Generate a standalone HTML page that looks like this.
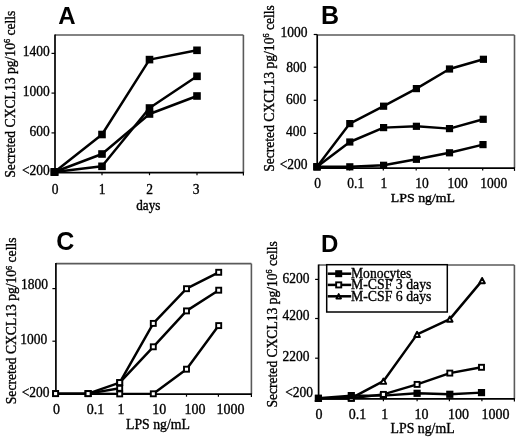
<!DOCTYPE html>
<html><head><meta charset="utf-8"><style>
html,body{margin:0;padding:0;background:#fff;}
svg{display:block;filter:blur(0.35px);}
text{fill:#000;}
</style></head><body>
<svg width="520" height="440" viewBox="0 0 520 440">
<rect width="520" height="440" fill="#fff"/>
<text x="58.3" y="23.6" font-family="Liberation Sans" font-weight="bold" font-size="24">A</text>
<text transform="translate(14.6,177.7) rotate(-90)" font-family="Liberation Serif" font-size="15" stroke="#000" stroke-width="0.36" textLength="167.1" lengthAdjust="spacingAndGlyphs">Secreted CXCL13 pg/10<tspan dy="-4.6" font-size="9">6</tspan><tspan dy="4.6"> cells</tspan></text>
<line x1="55" y1="35" x2="243.4" y2="35" stroke="#5a5a5a" stroke-width="1.6" />
<line x1="243.4" y1="35" x2="243.4" y2="172.7" stroke="#5a5a5a" stroke-width="1.6" />
<line x1="55" y1="34.5" x2="55" y2="173.7" stroke="#000" stroke-width="1.7" />
<line x1="54.2" y1="172.7" x2="243.9" y2="172.7" stroke="#000" stroke-width="1.8" />
<line x1="243.4" y1="172.7" x2="243.4" y2="175.5" stroke="#000" stroke-width="1.2" />
<line x1="51.5" y1="53.4" x2="55" y2="53.4" stroke="#000" stroke-width="1.2" />
<line x1="51.5" y1="93.1" x2="55" y2="93.1" stroke="#000" stroke-width="1.2" />
<line x1="51.5" y1="132.9" x2="55" y2="132.9" stroke="#000" stroke-width="1.2" />
<line x1="102" y1="172.7" x2="102" y2="175.2" stroke="#000" stroke-width="1.2" />
<line x1="149.5" y1="172.7" x2="149.5" y2="175.2" stroke="#000" stroke-width="1.2" />
<line x1="197" y1="172.7" x2="197" y2="175.2" stroke="#000" stroke-width="1.2" />
<text x="49.8" y="56.1" font-family="Liberation Serif" font-size="14.6" text-anchor="end" stroke="#000" stroke-width="0.36" textLength="27.00" lengthAdjust="spacingAndGlyphs">1400</text>
<text x="49.8" y="95.5" font-family="Liberation Serif" font-size="14.6" text-anchor="end" stroke="#000" stroke-width="0.36" textLength="27.00" lengthAdjust="spacingAndGlyphs">1000</text>
<text x="49.8" y="136.0" font-family="Liberation Serif" font-size="14.6" text-anchor="end" stroke="#000" stroke-width="0.36" textLength="20.25" lengthAdjust="spacingAndGlyphs">600</text>
<text x="49.8" y="174.7" font-family="Liberation Serif" font-size="14.6" text-anchor="end" stroke="#000" stroke-width="0.36" textLength="27.86" lengthAdjust="spacingAndGlyphs">&lt;200</text>
<text x="55" y="194.2" font-family="Liberation Serif" font-size="14.6" text-anchor="middle" stroke="#000" stroke-width="0.36" textLength="6.75" lengthAdjust="spacingAndGlyphs">0</text>
<text x="102" y="194.2" font-family="Liberation Serif" font-size="14.6" text-anchor="middle" stroke="#000" stroke-width="0.36" textLength="6.75" lengthAdjust="spacingAndGlyphs">1</text>
<text x="149.5" y="194.2" font-family="Liberation Serif" font-size="14.6" text-anchor="middle" stroke="#000" stroke-width="0.36" textLength="6.75" lengthAdjust="spacingAndGlyphs">2</text>
<text x="196" y="194.2" font-family="Liberation Serif" font-size="14.6" text-anchor="middle" stroke="#000" stroke-width="0.36" textLength="6.75" lengthAdjust="spacingAndGlyphs">3</text>
<text x="148.3" y="209.7" font-family="Liberation Serif" font-size="13.8" text-anchor="middle" stroke="#000" stroke-width="0.36" textLength="24.2" lengthAdjust="spacingAndGlyphs">days</text>
<polyline points="54.5,172 102,134.5 149.5,59.6 197,50.3" fill="none" stroke="#000" stroke-width="2.45" stroke-linejoin="round"/>
<polyline points="54.5,172 102,154 149.5,114 197,96" fill="none" stroke="#000" stroke-width="2.45" stroke-linejoin="round"/>
<polyline points="54.5,172 102,166.3 149.5,108 197,76.3" fill="none" stroke="#000" stroke-width="2.45" stroke-linejoin="round"/>
<rect x="50.7" y="168.2" width="7.6" height="7.6" fill="#000"/>
<rect x="98.2" y="130.7" width="7.6" height="7.6" fill="#000"/>
<rect x="145.7" y="55.800000000000004" width="7.6" height="7.6" fill="#000"/>
<rect x="193.2" y="46.5" width="7.6" height="7.6" fill="#000"/>
<rect x="50.7" y="168.2" width="7.6" height="7.6" fill="#000"/>
<rect x="98.2" y="150.2" width="7.6" height="7.6" fill="#000"/>
<rect x="145.7" y="110.2" width="7.6" height="7.6" fill="#000"/>
<rect x="193.2" y="92.2" width="7.6" height="7.6" fill="#000"/>
<rect x="50.7" y="168.2" width="7.6" height="7.6" fill="#000"/>
<rect x="98.2" y="162.5" width="7.6" height="7.6" fill="#000"/>
<rect x="145.7" y="104.2" width="7.6" height="7.6" fill="#000"/>
<rect x="193.2" y="72.5" width="7.6" height="7.6" fill="#000"/>
<text x="320.9" y="24" font-family="Liberation Sans" font-weight="bold" font-size="25">B</text>
<text transform="translate(273.5,171.8) rotate(-90)" font-family="Liberation Serif" font-size="15" stroke="#000" stroke-width="0.36" textLength="166.60000000000002" lengthAdjust="spacingAndGlyphs">Secreted CXCL13 pg/10<tspan dy="-4.6" font-size="9">6</tspan><tspan dy="4.6"> cells</tspan></text>
<line x1="317.2" y1="35" x2="514.5" y2="35" stroke="#5a5a5a" stroke-width="1.6" />
<line x1="514.5" y1="35" x2="514.5" y2="168.1" stroke="#5a5a5a" stroke-width="1.6" />
<line x1="317.2" y1="34.5" x2="317.2" y2="169.1" stroke="#000" stroke-width="1.7" />
<line x1="316.4" y1="168.1" x2="515.0" y2="168.1" stroke="#000" stroke-width="1.8" />
<line x1="514.5" y1="168.1" x2="514.5" y2="170.9" stroke="#000" stroke-width="1.2" />
<line x1="313.7" y1="34.5" x2="317.2" y2="34.5" stroke="#000" stroke-width="1.2" />
<line x1="313.7" y1="67.2" x2="317.2" y2="67.2" stroke="#000" stroke-width="1.2" />
<line x1="313.7" y1="100.3" x2="317.2" y2="100.3" stroke="#000" stroke-width="1.2" />
<line x1="313.7" y1="133.4" x2="317.2" y2="133.4" stroke="#000" stroke-width="1.2" />
<line x1="349.6" y1="168.1" x2="349.6" y2="170.6" stroke="#000" stroke-width="1.2" />
<line x1="383.3" y1="168.1" x2="383.3" y2="170.6" stroke="#000" stroke-width="1.2" />
<line x1="416.2" y1="168.1" x2="416.2" y2="170.6" stroke="#000" stroke-width="1.2" />
<line x1="449" y1="168.1" x2="449" y2="170.6" stroke="#000" stroke-width="1.2" />
<line x1="482.7" y1="168.1" x2="482.7" y2="170.6" stroke="#000" stroke-width="1.2" />
<text x="307.6" y="37.0" font-family="Liberation Serif" font-size="14.6" text-anchor="end" stroke="#000" stroke-width="0.36" textLength="27.00" lengthAdjust="spacingAndGlyphs">1000</text>
<text x="306.6" y="71.6" font-family="Liberation Serif" font-size="14.6" text-anchor="end" stroke="#000" stroke-width="0.36" textLength="20.25" lengthAdjust="spacingAndGlyphs">800</text>
<text x="306.3" y="103.69999999999999" font-family="Liberation Serif" font-size="14.6" text-anchor="end" stroke="#000" stroke-width="0.36" textLength="20.25" lengthAdjust="spacingAndGlyphs">600</text>
<text x="306.3" y="135.9" font-family="Liberation Serif" font-size="14.6" text-anchor="end" stroke="#000" stroke-width="0.36" textLength="20.25" lengthAdjust="spacingAndGlyphs">400</text>
<text x="307.6" y="169.29999999999998" font-family="Liberation Serif" font-size="14.6" text-anchor="end" stroke="#000" stroke-width="0.36" textLength="27.86" lengthAdjust="spacingAndGlyphs">&lt;200</text>
<text x="314.3" y="188.2" font-family="Liberation Serif" font-size="14.6" text-anchor="start" stroke="#000" stroke-width="0.36" textLength="6.75" lengthAdjust="spacingAndGlyphs">0</text>
<text x="347.3" y="188.2" font-family="Liberation Serif" font-size="14.6" text-anchor="start" stroke="#000" stroke-width="0.36" textLength="16.88" lengthAdjust="spacingAndGlyphs">0.1</text>
<text x="380.6" y="188.2" font-family="Liberation Serif" font-size="14.6" text-anchor="start" stroke="#000" stroke-width="0.36" textLength="6.75" lengthAdjust="spacingAndGlyphs">1</text>
<text x="415.2" y="188.2" font-family="Liberation Serif" font-size="14.6" text-anchor="start" stroke="#000" stroke-width="0.36" textLength="13.50" lengthAdjust="spacingAndGlyphs">10</text>
<text x="447.6" y="188.2" font-family="Liberation Serif" font-size="14.6" text-anchor="start" stroke="#000" stroke-width="0.36" textLength="20.25" lengthAdjust="spacingAndGlyphs">100</text>
<text x="480.2" y="188.2" font-family="Liberation Serif" font-size="14.6" text-anchor="start" stroke="#000" stroke-width="0.36" textLength="27.00" lengthAdjust="spacingAndGlyphs">1000</text>
<text x="390.8" y="201.8" font-family="Liberation Serif" font-size="13" text-anchor="start" stroke="#000" stroke-width="0.36" textLength="64.3" lengthAdjust="spacingAndGlyphs">LPS ng/mL</text>
<polyline points="317,166.8 349.8,123.6 383.6,106.2 416.4,88.6 449.5,69 483.4,59.3" fill="none" stroke="#000" stroke-width="2.45" stroke-linejoin="round"/>
<polyline points="317,166.8 349.8,142 383.6,127.6 416.4,126.3 449.5,128.6 483.2,119.3" fill="none" stroke="#000" stroke-width="2.45" stroke-linejoin="round"/>
<polyline points="317,166.8 349.8,166.8 383.6,165.3 416.4,159.3 449.5,152.8 483,144.6" fill="none" stroke="#000" stroke-width="2.45" stroke-linejoin="round"/>
<rect x="313.4" y="163.20000000000002" width="7.2" height="7.2" fill="#000"/>
<rect x="346.2" y="120.0" width="7.2" height="7.2" fill="#000"/>
<rect x="380.0" y="102.60000000000001" width="7.2" height="7.2" fill="#000"/>
<rect x="412.79999999999995" y="85.0" width="7.2" height="7.2" fill="#000"/>
<rect x="445.9" y="65.4" width="7.2" height="7.2" fill="#000"/>
<rect x="479.79999999999995" y="55.699999999999996" width="7.2" height="7.2" fill="#000"/>
<rect x="313.4" y="163.20000000000002" width="7.2" height="7.2" fill="#000"/>
<rect x="346.2" y="138.4" width="7.2" height="7.2" fill="#000"/>
<rect x="380.0" y="124.0" width="7.2" height="7.2" fill="#000"/>
<rect x="412.79999999999995" y="122.7" width="7.2" height="7.2" fill="#000"/>
<rect x="445.9" y="125.0" width="7.2" height="7.2" fill="#000"/>
<rect x="479.59999999999997" y="115.7" width="7.2" height="7.2" fill="#000"/>
<rect x="313.4" y="163.20000000000002" width="7.2" height="7.2" fill="#000"/>
<rect x="346.2" y="163.20000000000002" width="7.2" height="7.2" fill="#000"/>
<rect x="380.0" y="161.70000000000002" width="7.2" height="7.2" fill="#000"/>
<rect x="412.79999999999995" y="155.70000000000002" width="7.2" height="7.2" fill="#000"/>
<rect x="445.9" y="149.20000000000002" width="7.2" height="7.2" fill="#000"/>
<rect x="479.4" y="141.0" width="7.2" height="7.2" fill="#000"/>
<text x="56.2" y="249.8" font-family="Liberation Sans" font-weight="bold" font-size="25">C</text>
<text transform="translate(16.4,404.2) rotate(-90)" font-family="Liberation Serif" font-size="15" stroke="#000" stroke-width="0.36" textLength="166.7" lengthAdjust="spacingAndGlyphs">Secreted CXCL13 pg/10<tspan dy="-4.6" font-size="9">6</tspan><tspan dy="4.6"> cells</tspan></text>
<line x1="55.9" y1="263.6" x2="251.4" y2="263.6" stroke="#5a5a5a" stroke-width="1.6" />
<line x1="251.4" y1="263.6" x2="251.4" y2="394.2" stroke="#5a5a5a" stroke-width="1.6" />
<line x1="55.9" y1="263.1" x2="55.9" y2="395.2" stroke="#000" stroke-width="1.7" />
<line x1="55.1" y1="394.2" x2="251.9" y2="394.2" stroke="#000" stroke-width="1.8" />
<line x1="251.4" y1="394.2" x2="251.4" y2="397.0" stroke="#000" stroke-width="1.2" />
<line x1="52.4" y1="288.6" x2="55.9" y2="288.6" stroke="#000" stroke-width="1.2" />
<line x1="52.4" y1="341.2" x2="55.9" y2="341.2" stroke="#000" stroke-width="1.2" />
<line x1="88.1" y1="394.2" x2="88.1" y2="396.7" stroke="#000" stroke-width="1.2" />
<line x1="119.8" y1="394.2" x2="119.8" y2="396.7" stroke="#000" stroke-width="1.2" />
<line x1="153.3" y1="394.2" x2="153.3" y2="396.7" stroke="#000" stroke-width="1.2" />
<line x1="186.5" y1="394.2" x2="186.5" y2="396.7" stroke="#000" stroke-width="1.2" />
<line x1="218.4" y1="394.2" x2="218.4" y2="396.7" stroke="#000" stroke-width="1.2" />
<text x="48.1" y="288.8" font-family="Liberation Serif" font-size="14.6" text-anchor="end" stroke="#000" stroke-width="0.36" textLength="27.00" lengthAdjust="spacingAndGlyphs">1800</text>
<text x="47.2" y="344.40000000000003" font-family="Liberation Serif" font-size="14.6" text-anchor="end" stroke="#000" stroke-width="0.36" textLength="27.00" lengthAdjust="spacingAndGlyphs">1000</text>
<text x="49.6" y="397.40000000000003" font-family="Liberation Serif" font-size="14.6" text-anchor="end" stroke="#000" stroke-width="0.36" textLength="27.86" lengthAdjust="spacingAndGlyphs">&lt;200</text>
<text x="53.1" y="414.3" font-family="Liberation Serif" font-size="15" text-anchor="start" stroke="#000" stroke-width="0.36" textLength="7.00" lengthAdjust="spacingAndGlyphs">0</text>
<text x="86.7" y="414.3" font-family="Liberation Serif" font-size="15" text-anchor="start" stroke="#000" stroke-width="0.36" textLength="17.50" lengthAdjust="spacingAndGlyphs">0.1</text>
<text x="117.5" y="414.3" font-family="Liberation Serif" font-size="15" text-anchor="start" stroke="#000" stroke-width="0.36" textLength="7.00" lengthAdjust="spacingAndGlyphs">1</text>
<text x="152.3" y="414.3" font-family="Liberation Serif" font-size="15" text-anchor="start" stroke="#000" stroke-width="0.36" textLength="14.00" lengthAdjust="spacingAndGlyphs">10</text>
<text x="184.4" y="414.3" font-family="Liberation Serif" font-size="15" text-anchor="start" stroke="#000" stroke-width="0.36" textLength="21.00" lengthAdjust="spacingAndGlyphs">100</text>
<text x="216.4" y="414.3" font-family="Liberation Serif" font-size="15" text-anchor="start" stroke="#000" stroke-width="0.36" textLength="28.00" lengthAdjust="spacingAndGlyphs">1000</text>
<text x="126" y="429.3" font-family="Liberation Serif" font-size="14.5" text-anchor="start" stroke="#000" stroke-width="0.36" textLength="64" lengthAdjust="spacingAndGlyphs">LPS ng/mL</text>
<polyline points="55.6,393.6 88.1,393.6 119.7,382.6 153.3,323.4 186.5,288.7 218.7,272.3" fill="none" stroke="#000" stroke-width="2.45" stroke-linejoin="round"/>
<polyline points="119.7,382.6 153.3,346.8 186.5,310.9 218.7,290.2" fill="none" stroke="#000" stroke-width="2.45" stroke-linejoin="round"/>
<polyline points="55.6,393.6 88.1,393.6 119.7,393.9 153.3,393.8 186.5,369.2 218.7,325.6" fill="none" stroke="#000" stroke-width="2.45" stroke-linejoin="round"/>
<polyline points="88.1,393.6 119.7,388.3" fill="none" stroke="#000" stroke-width="2.45" stroke-linejoin="round"/>
<rect x="53.1" y="391.1" width="5.0" height="5.0" fill="#fff" stroke="#000" stroke-width="1.9"/>
<rect x="85.6" y="391.1" width="5.0" height="5.0" fill="#fff" stroke="#000" stroke-width="1.9"/>
<rect x="117.2" y="380.1" width="5.0" height="5.0" fill="#fff" stroke="#000" stroke-width="1.9"/>
<rect x="150.8" y="320.9" width="5.0" height="5.0" fill="#fff" stroke="#000" stroke-width="1.9"/>
<rect x="184.0" y="286.2" width="5.0" height="5.0" fill="#fff" stroke="#000" stroke-width="1.9"/>
<rect x="216.2" y="269.8" width="5.0" height="5.0" fill="#fff" stroke="#000" stroke-width="1.9"/>
<rect x="117.2" y="380.1" width="5.0" height="5.0" fill="#fff" stroke="#000" stroke-width="1.9"/>
<rect x="150.8" y="344.3" width="5.0" height="5.0" fill="#fff" stroke="#000" stroke-width="1.9"/>
<rect x="184.0" y="308.4" width="5.0" height="5.0" fill="#fff" stroke="#000" stroke-width="1.9"/>
<rect x="216.2" y="287.7" width="5.0" height="5.0" fill="#fff" stroke="#000" stroke-width="1.9"/>
<rect x="53.1" y="391.1" width="5.0" height="5.0" fill="#fff" stroke="#000" stroke-width="1.9"/>
<rect x="85.6" y="391.1" width="5.0" height="5.0" fill="#fff" stroke="#000" stroke-width="1.9"/>
<rect x="117.2" y="391.4" width="5.0" height="5.0" fill="#fff" stroke="#000" stroke-width="1.9"/>
<rect x="150.8" y="391.3" width="5.0" height="5.0" fill="#fff" stroke="#000" stroke-width="1.9"/>
<rect x="184.0" y="366.7" width="5.0" height="5.0" fill="#fff" stroke="#000" stroke-width="1.9"/>
<rect x="216.2" y="323.1" width="5.0" height="5.0" fill="#fff" stroke="#000" stroke-width="1.9"/>
<rect x="85.6" y="391.1" width="5.0" height="5.0" fill="#fff" stroke="#000" stroke-width="1.9"/>
<rect x="117.2" y="385.8" width="5.0" height="5.0" fill="#fff" stroke="#000" stroke-width="1.9"/>
<text x="320.9" y="252.2" font-family="Liberation Sans" font-weight="bold" font-size="24">D</text>
<text transform="translate(276.5,407.5) rotate(-90)" font-family="Liberation Serif" font-size="15" stroke="#000" stroke-width="0.36" textLength="166.3" lengthAdjust="spacingAndGlyphs">Secreted CXCL13 pg/10<tspan dy="-4.6" font-size="9">6</tspan><tspan dy="4.6"> cells</tspan></text>
<line x1="318.6" y1="265" x2="514.4" y2="265" stroke="#5a5a5a" stroke-width="1.6" />
<line x1="514.4" y1="265" x2="514.4" y2="398.8" stroke="#5a5a5a" stroke-width="1.6" />
<line x1="318.6" y1="264.5" x2="318.6" y2="399.8" stroke="#000" stroke-width="1.7" />
<line x1="317.8" y1="398.8" x2="514.9" y2="398.8" stroke="#000" stroke-width="1.8" />
<line x1="514.4" y1="398.8" x2="514.4" y2="401.6" stroke="#000" stroke-width="1.2" />
<line x1="315.1" y1="279.4" x2="318.6" y2="279.4" stroke="#000" stroke-width="1.2" />
<line x1="315.1" y1="318.5" x2="318.6" y2="318.5" stroke="#000" stroke-width="1.2" />
<line x1="315.1" y1="358.2" x2="318.6" y2="358.2" stroke="#000" stroke-width="1.2" />
<line x1="351.3" y1="398.8" x2="351.3" y2="401.3" stroke="#000" stroke-width="1.2" />
<line x1="383.4" y1="398.8" x2="383.4" y2="401.3" stroke="#000" stroke-width="1.2" />
<line x1="417.1" y1="398.8" x2="417.1" y2="401.3" stroke="#000" stroke-width="1.2" />
<line x1="449.4" y1="398.8" x2="449.4" y2="401.3" stroke="#000" stroke-width="1.2" />
<line x1="481.9" y1="398.8" x2="481.9" y2="401.3" stroke="#000" stroke-width="1.2" />
<text x="309.6" y="283.1" font-family="Liberation Serif" font-size="14.6" text-anchor="end" stroke="#000" stroke-width="0.36" textLength="27.00" lengthAdjust="spacingAndGlyphs">6200</text>
<text x="309.6" y="320.40000000000003" font-family="Liberation Serif" font-size="14.6" text-anchor="end" stroke="#000" stroke-width="0.36" textLength="27.00" lengthAdjust="spacingAndGlyphs">4200</text>
<text x="309.6" y="361.40000000000003" font-family="Liberation Serif" font-size="14.6" text-anchor="end" stroke="#000" stroke-width="0.36" textLength="27.00" lengthAdjust="spacingAndGlyphs">2200</text>
<text x="313" y="396.90000000000003" font-family="Liberation Serif" font-size="14.6" text-anchor="end" stroke="#000" stroke-width="0.36" textLength="27.86" lengthAdjust="spacingAndGlyphs">&lt;200</text>
<text x="315.6" y="418.7" font-family="Liberation Serif" font-size="15" text-anchor="start" stroke="#000" stroke-width="0.36" textLength="7.00" lengthAdjust="spacingAndGlyphs">0</text>
<text x="348.7" y="418.7" font-family="Liberation Serif" font-size="15" text-anchor="start" stroke="#000" stroke-width="0.36" textLength="17.50" lengthAdjust="spacingAndGlyphs">0.1</text>
<text x="381.3" y="418.7" font-family="Liberation Serif" font-size="15" text-anchor="start" stroke="#000" stroke-width="0.36" textLength="7.00" lengthAdjust="spacingAndGlyphs">1</text>
<text x="414.6" y="418.7" font-family="Liberation Serif" font-size="15" text-anchor="start" stroke="#000" stroke-width="0.36" textLength="14.00" lengthAdjust="spacingAndGlyphs">10</text>
<text x="448" y="418.7" font-family="Liberation Serif" font-size="15" text-anchor="start" stroke="#000" stroke-width="0.36" textLength="21.00" lengthAdjust="spacingAndGlyphs">100</text>
<text x="481.5" y="418.7" font-family="Liberation Serif" font-size="15" text-anchor="start" stroke="#000" stroke-width="0.36" textLength="28.00" lengthAdjust="spacingAndGlyphs">1000</text>
<text x="390.6" y="433" font-family="Liberation Serif" font-size="14" text-anchor="start" stroke="#000" stroke-width="0.36" textLength="64" lengthAdjust="spacingAndGlyphs">LPS ng/mL</text>
<polyline points="318.4,398.3 351.3,395.6 383.4,395.6 417.1,393.3 449.8,394.3 481.5,392.6" fill="none" stroke="#000" stroke-width="2.45" stroke-linejoin="round"/>
<polyline points="318.4,398.3 351.3,398.2 383.4,394.4 417.1,384.4 449.8,373.1 481.5,367.3" fill="none" stroke="#000" stroke-width="2.45" stroke-linejoin="round"/>
<polyline points="318.4,398.3 351.3,398.2 383.4,381.2 417.1,334.4 449.8,319.1 482.1,280.6" fill="none" stroke="#000" stroke-width="2.45" stroke-linejoin="round"/>
<polygon points="318.4,395.64 321.2,400.96000000000004 315.59999999999997,400.96000000000004" fill="#fff" stroke="#000" stroke-width="1.9" stroke-linejoin="round"/>
<polygon points="351.3,395.53999999999996 354.1,400.86 348.5,400.86" fill="#fff" stroke="#000" stroke-width="1.9" stroke-linejoin="round"/>
<polygon points="383.4,378.53999999999996 386.2,383.86 380.59999999999997,383.86" fill="#fff" stroke="#000" stroke-width="1.9" stroke-linejoin="round"/>
<polygon points="417.1,331.73999999999995 419.90000000000003,337.06 414.3,337.06" fill="#fff" stroke="#000" stroke-width="1.9" stroke-linejoin="round"/>
<polygon points="449.8,316.44 452.6,321.76000000000005 447.0,321.76000000000005" fill="#fff" stroke="#000" stroke-width="1.9" stroke-linejoin="round"/>
<polygon points="482.1,277.94 484.90000000000003,283.26000000000005 479.3,283.26000000000005" fill="#fff" stroke="#000" stroke-width="1.9" stroke-linejoin="round"/>
<rect x="379.79999999999995" y="392.0" width="7.2" height="7.2" fill="#000"/>
<rect x="315.9" y="395.8" width="5.0" height="5.0" fill="#fff" stroke="#000" stroke-width="1.9"/>
<rect x="348.8" y="395.7" width="5.0" height="5.0" fill="#fff" stroke="#000" stroke-width="1.9"/>
<rect x="380.9" y="391.9" width="5.0" height="5.0" fill="#fff" stroke="#000" stroke-width="1.9"/>
<rect x="414.6" y="381.9" width="5.0" height="5.0" fill="#fff" stroke="#000" stroke-width="1.9"/>
<rect x="447.3" y="370.6" width="5.0" height="5.0" fill="#fff" stroke="#000" stroke-width="1.9"/>
<rect x="479.0" y="364.8" width="5.0" height="5.0" fill="#fff" stroke="#000" stroke-width="1.9"/>
<rect x="314.79999999999995" y="394.7" width="7.2" height="7.2" fill="#000"/>
<rect x="347.7" y="392.0" width="7.2" height="7.2" fill="#000"/>
<rect x="413.5" y="389.7" width="7.2" height="7.2" fill="#000"/>
<rect x="446.2" y="390.7" width="7.2" height="7.2" fill="#000"/>
<rect x="477.9" y="389.0" width="7.2" height="7.2" fill="#000"/>
<rect x="326.7" y="264.7" width="120.6" height="47.3" fill="#fff" stroke="#000" stroke-width="1.5"/>
<line x1="327.7" y1="273.7" x2="351.2" y2="273.7" stroke="#000" stroke-width="2.5" />
<rect x="335.2" y="270.2" width="7" height="7" fill="#000"/>
<text x="351.0" y="277.9" font-family="Liberation Serif" font-size="14.8" text-anchor="start" stroke="#000" stroke-width="0.36" textLength="60.4" lengthAdjust="spacingAndGlyphs">Monocytes</text>
<line x1="327.7" y1="284.9" x2="351.2" y2="284.9" stroke="#000" stroke-width="2.5" />
<rect x="336.15" y="282.34999999999997" width="5.1" height="5.1" fill="#fff" stroke="#000" stroke-width="1.9"/>
<text x="351.0" y="289.09999999999997" font-family="Liberation Serif" font-size="14.8" text-anchor="start" stroke="#000" stroke-width="0.36" textLength="80.4" lengthAdjust="spacingAndGlyphs">M-CSF 3 days</text>
<line x1="327.7" y1="296.3" x2="351.2" y2="296.3" stroke="#000" stroke-width="2.5" />
<polygon points="338.7,294.115 341.0,298.485 336.4,298.485" fill="#fff" stroke="#000" stroke-width="1.9" stroke-linejoin="round"/>
<text x="351.0" y="300.5" font-family="Liberation Serif" font-size="14.8" text-anchor="start" stroke="#000" stroke-width="0.36" textLength="80.4" lengthAdjust="spacingAndGlyphs">M-CSF 6 days</text>
</svg>
</body></html>
